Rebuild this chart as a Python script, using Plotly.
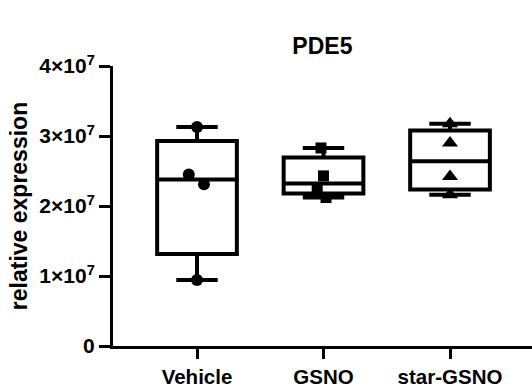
import plotly.graph_objects as go

# Groups and individual measurements (relative expression)
groups = ["Vehicle", "GSNO", "star-GSNO"]
vehicle_vals = [3.129e7, 2.45e7, 2.309e7, 0.943e7]
gsno_vals = [2.829e7, 2.43e7, 2.243e7, 2.121e7]
star_vals = [3.176e7, 2.90e7, 2.421e7, 2.161e7]

# Box summary statistics per group (min, Q1, median, Q3, max)
box_min = [0.943e7, 2.121e7, 2.161e7]
box_q1 = [1.314e7, 2.179e7, 2.236e7]
box_median = [2.379e7, 2.321e7, 2.639e7]
box_q3 = [2.929e7, 2.693e7, 3.079e7]
box_max = [3.129e7, 2.829e7, 3.176e7]

# Y-axis ticks
y_tickvals = [0, 1e7, 2e7, 3e7, 4e7]
y_ticktext = ["0", "1×10<sup>7</sup>", "2×10<sup>7</sup>", "3×10<sup>7</sup>", "4×10<sup>7</sup>"]

# horizontal scatter of the dots inside each group (in category units)
jitter = [
    [0.0, -0.065, 0.055, 0.0],
    [-0.02, 0.0, -0.05, 0.02],
    [0.0, 0.0, 0.0, 0.0],
]
symbols = ["circle", "square", "triangle-up"]
sizes = [12, 11, 14]

FONT = "Liberation Sans, Arial, sans-serif"

fig = go.Figure()

for i, g in enumerate(groups):
    fig.add_trace(go.Box(
        x=[i], q1=[box_q1[i]], median=[box_median[i]], q3=[box_q3[i]],
        lowerfence=[box_min[i]], upperfence=[box_max[i]],
        width=0.63, whiskerwidth=0.52,
        line=dict(color="black", width=4), fillcolor="white",
        boxpoints=False, showlegend=False, hoverinfo="skip",
    ))

for i, vals in enumerate([vehicle_vals, gsno_vals, star_vals]):
    fig.add_trace(go.Scatter(
        x=[i + d for d in jitter[i]], y=vals, mode="markers",
        marker=dict(symbol=symbols[i], size=sizes[i], color="black",
                    line=dict(width=0)),
        showlegend=False, name=groups[i],
    ))

fig.update_layout(
    width=532, height=388,
    margin=dict(l=113, r=0, t=66, b=42),
    plot_bgcolor="white", paper_bgcolor="white",
    title=dict(text="<b>PDE5</b>", x=0.606, xanchor="center", y=0.882, yanchor="middle",
               font=dict(family=FONT, size=23, color="black")),
    font=dict(family=FONT, color="black"),
)

fig.update_xaxes(
    range=[-0.664, 2.648], tickvals=[0, 1, 2],
    ticktext=[f"<b>{g}</b>" for g in groups],
    showline=True, linecolor="black", linewidth=3,
    ticks="outside", ticklen=10, tickwidth=3, tickcolor="black",
    tickfont=dict(family=FONT, size=20.5, color="black"),
    showgrid=False, zeroline=False,
)

fig.update_yaxes(
    range=[0, 4e7], tickvals=y_tickvals,
    ticktext=[f"<b>{t}</b>" for t in y_ticktext],
    showline=True, linecolor="black", linewidth=3,
    ticks="outside", ticklen=11, tickwidth=3, tickcolor="black",
    tickfont=dict(family=FONT, size=21, color="black"),
    title=dict(text="<b>relative expression</b>", standoff=6,
               font=dict(family=FONT, size=23, color="black")),
    showgrid=False, zeroline=False,
)

fig.write_html("out.html")
